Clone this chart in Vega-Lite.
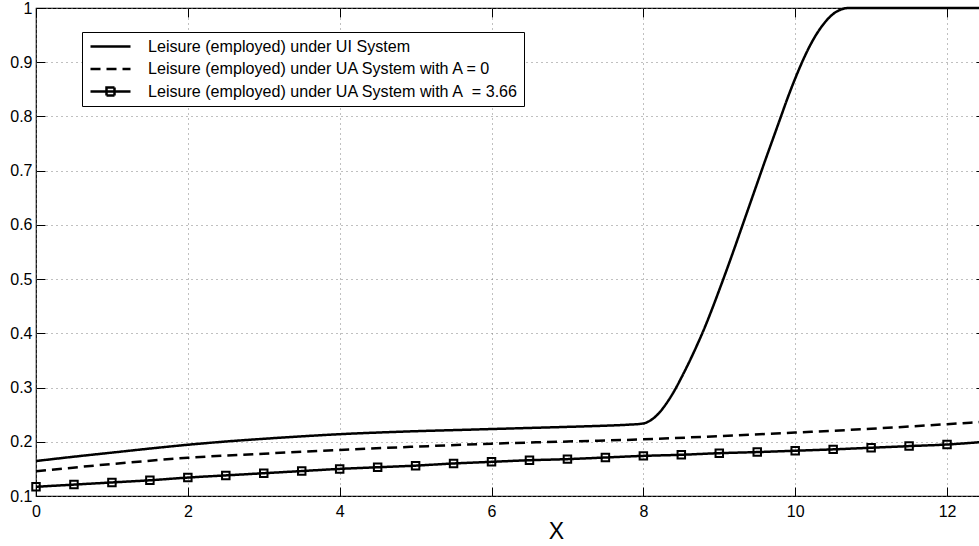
{
  "$schema": "https://vega.github.io/schema/vega-lite/v6.json",
  "autosize": "none",
  "width": 949,
  "height": 488,
  "padding": {"left": 36, "top": 8, "right": 0, "bottom": 50},
  "background": "white",
  "config": {
    "font": "Liberation Sans",
    "view": {"stroke": "black", "strokeWidth": 1.2},
    "axis": {
      "domain": false,
      "tickColor": "black",
      "tickWidth": 1,
      "tickSize": -9,
      "labelColor": "black",
      "labelFont": "Liberation Sans",
      "labelFontSize": 16,
      "labelFlush": false,
      "labelOverlap": false,
      "gridColor": "#808080",
      "gridDash": [1, 4],
      "gridWidth": 1,
      "gridOpacity": 1
    }
  },
  "datasets": {
    "curves": [
      {"series": "Leisure (employed) under UI System", "x": 0, "y": 0.1645},
      {"series": "Leisure (employed) under UI System", "x": 0.5, "y": 0.1725},
      {"series": "Leisure (employed) under UI System", "x": 1, "y": 0.18},
      {"series": "Leisure (employed) under UI System", "x": 1.5, "y": 0.1875},
      {"series": "Leisure (employed) under UI System", "x": 2, "y": 0.1945},
      {"series": "Leisure (employed) under UI System", "x": 2.5, "y": 0.2005},
      {"series": "Leisure (employed) under UI System", "x": 3, "y": 0.2055},
      {"series": "Leisure (employed) under UI System", "x": 3.5, "y": 0.21},
      {"series": "Leisure (employed) under UI System", "x": 4, "y": 0.214},
      {"series": "Leisure (employed) under UI System", "x": 4.5, "y": 0.217},
      {"series": "Leisure (employed) under UI System", "x": 5, "y": 0.2195},
      {"series": "Leisure (employed) under UI System", "x": 5.5, "y": 0.2215},
      {"series": "Leisure (employed) under UI System", "x": 6, "y": 0.2235},
      {"series": "Leisure (employed) under UI System", "x": 6.5, "y": 0.2255},
      {"series": "Leisure (employed) under UI System", "x": 7, "y": 0.2275},
      {"series": "Leisure (employed) under UI System", "x": 7.5, "y": 0.2297},
      {"series": "Leisure (employed) under UI System", "x": 7.8, "y": 0.2315},
      {"series": "Leisure (employed) under UI System", "x": 8, "y": 0.2338},
      {"series": "Leisure (employed) under UI System", "x": 8.1, "y": 0.24},
      {"series": "Leisure (employed) under UI System", "x": 8.2, "y": 0.252},
      {"series": "Leisure (employed) under UI System", "x": 8.3, "y": 0.27},
      {"series": "Leisure (employed) under UI System", "x": 8.4, "y": 0.292},
      {"series": "Leisure (employed) under UI System", "x": 8.5, "y": 0.318},
      {"series": "Leisure (employed) under UI System", "x": 8.6, "y": 0.346},
      {"series": "Leisure (employed) under UI System", "x": 8.7, "y": 0.376},
      {"series": "Leisure (employed) under UI System", "x": 8.8, "y": 0.408},
      {"series": "Leisure (employed) under UI System", "x": 8.9, "y": 0.443},
      {"series": "Leisure (employed) under UI System", "x": 9, "y": 0.48},
      {"series": "Leisure (employed) under UI System", "x": 9.1, "y": 0.518},
      {"series": "Leisure (employed) under UI System", "x": 9.2, "y": 0.557},
      {"series": "Leisure (employed) under UI System", "x": 9.3, "y": 0.597},
      {"series": "Leisure (employed) under UI System", "x": 9.4, "y": 0.637},
      {"series": "Leisure (employed) under UI System", "x": 9.5, "y": 0.677},
      {"series": "Leisure (employed) under UI System", "x": 9.6, "y": 0.717},
      {"series": "Leisure (employed) under UI System", "x": 9.7, "y": 0.756},
      {"series": "Leisure (employed) under UI System", "x": 9.8, "y": 0.795},
      {"series": "Leisure (employed) under UI System", "x": 9.9, "y": 0.834},
      {"series": "Leisure (employed) under UI System", "x": 10, "y": 0.87},
      {"series": "Leisure (employed) under UI System", "x": 10.1, "y": 0.903},
      {"series": "Leisure (employed) under UI System", "x": 10.2, "y": 0.932},
      {"series": "Leisure (employed) under UI System", "x": 10.3, "y": 0.956},
      {"series": "Leisure (employed) under UI System", "x": 10.4, "y": 0.975},
      {"series": "Leisure (employed) under UI System", "x": 10.5, "y": 0.989},
      {"series": "Leisure (employed) under UI System", "x": 10.6, "y": 0.997},
      {"series": "Leisure (employed) under UI System", "x": 10.7, "y": 1.0},
      {"series": "Leisure (employed) under UI System", "x": 12.5, "y": 1.0},
      {"series": "Leisure (employed) under UA System with A = 0", "x": 0, "y": 0.1455},
      {"series": "Leisure (employed) under UA System with A = 0", "x": 1, "y": 0.159},
      {"series": "Leisure (employed) under UA System with A = 0", "x": 2, "y": 0.1705},
      {"series": "Leisure (employed) under UA System with A = 0", "x": 3, "y": 0.178},
      {"series": "Leisure (employed) under UA System with A = 0", "x": 4, "y": 0.185},
      {"series": "Leisure (employed) under UA System with A = 0", "x": 5, "y": 0.191},
      {"series": "Leisure (employed) under UA System with A = 0", "x": 6, "y": 0.1965},
      {"series": "Leisure (employed) under UA System with A = 0", "x": 7, "y": 0.2005},
      {"series": "Leisure (employed) under UA System with A = 0", "x": 8, "y": 0.2045},
      {"series": "Leisure (employed) under UA System with A = 0", "x": 9, "y": 0.2105},
      {"series": "Leisure (employed) under UA System with A = 0", "x": 10, "y": 0.217},
      {"series": "Leisure (employed) under UA System with A = 0", "x": 11, "y": 0.224},
      {"series": "Leisure (employed) under UA System with A = 0", "x": 12, "y": 0.2325},
      {"series": "Leisure (employed) under UA System with A = 0", "x": 12.5, "y": 0.237},
      {"series": "Leisure (employed) under UA System with A\u00a0 = 3.66", "x": 0, "y": 0.117},
      {"series": "Leisure (employed) under UA System with A\u00a0 = 3.66", "x": 0.5, "y": 0.121},
      {"series": "Leisure (employed) under UA System with A\u00a0 = 3.66", "x": 1, "y": 0.125},
      {"series": "Leisure (employed) under UA System with A\u00a0 = 3.66", "x": 1.5, "y": 0.129},
      {"series": "Leisure (employed) under UA System with A\u00a0 = 3.66", "x": 2, "y": 0.134},
      {"series": "Leisure (employed) under UA System with A\u00a0 = 3.66", "x": 2.5, "y": 0.138},
      {"series": "Leisure (employed) under UA System with A\u00a0 = 3.66", "x": 3, "y": 0.142},
      {"series": "Leisure (employed) under UA System with A\u00a0 = 3.66", "x": 3.5, "y": 0.146},
      {"series": "Leisure (employed) under UA System with A\u00a0 = 3.66", "x": 4, "y": 0.15},
      {"series": "Leisure (employed) under UA System with A\u00a0 = 3.66", "x": 4.5, "y": 0.153},
      {"series": "Leisure (employed) under UA System with A\u00a0 = 3.66", "x": 5, "y": 0.156},
      {"series": "Leisure (employed) under UA System with A\u00a0 = 3.66", "x": 5.5, "y": 0.16},
      {"series": "Leisure (employed) under UA System with A\u00a0 = 3.66", "x": 6, "y": 0.163},
      {"series": "Leisure (employed) under UA System with A\u00a0 = 3.66", "x": 6.5, "y": 0.166},
      {"series": "Leisure (employed) under UA System with A\u00a0 = 3.66", "x": 7, "y": 0.168},
      {"series": "Leisure (employed) under UA System with A\u00a0 = 3.66", "x": 7.5, "y": 0.171},
      {"series": "Leisure (employed) under UA System with A\u00a0 = 3.66", "x": 8, "y": 0.174},
      {"series": "Leisure (employed) under UA System with A\u00a0 = 3.66", "x": 8.5, "y": 0.176},
      {"series": "Leisure (employed) under UA System with A\u00a0 = 3.66", "x": 9, "y": 0.179},
      {"series": "Leisure (employed) under UA System with A\u00a0 = 3.66", "x": 9.5, "y": 0.181},
      {"series": "Leisure (employed) under UA System with A\u00a0 = 3.66", "x": 10, "y": 0.1835},
      {"series": "Leisure (employed) under UA System with A\u00a0 = 3.66", "x": 10.5, "y": 0.186},
      {"series": "Leisure (employed) under UA System with A\u00a0 = 3.66", "x": 11, "y": 0.189},
      {"series": "Leisure (employed) under UA System with A\u00a0 = 3.66", "x": 11.5, "y": 0.192},
      {"series": "Leisure (employed) under UA System with A\u00a0 = 3.66", "x": 12, "y": 0.195},
      {"series": "Leisure (employed) under UA System with A\u00a0 = 3.66", "x": 12.5, "y": 0.2}
    ]
  },
  "data": {"name": "curves"},
  "resolve": {"axis": {"x": "independent", "y": "independent"}},
  "layer": [
    {
      "mark": {"type": "line", "color": "black", "strokeWidth": 2.5, "interpolate": "monotone", "clip": false},
      "encoding": {
        "x": {
          "field": "x",
          "type": "quantitative",
          "scale": {"domain": [0, 12.5], "nice": false, "zero": false},
          "axis": {
            "orient": "bottom",
            "values": [0, 2, 4, 6, 8, 10, 12],
            "grid": true,
            "labelPadding": 16,
            "title": "X",
            "titleFont": "Liberation Sans",
            "titleFontSize": 23,
            "titleFontWeight": "normal",
            "titleColor": "black",
            "titleX": 520,
            "titleY": 42,
            "titleBaseline": "alphabetic",
            "titleAlign": "center"
          }
        },
        "y": {
          "field": "y",
          "type": "quantitative",
          "scale": {"domain": [0.1, 1], "nice": false, "zero": false},
          "axis": {
            "orient": "left",
            "values": [0.1, 0.2, 0.3, 0.4, 0.5, 0.6, 0.7, 0.8, 0.9, 1],
            "format": ".1~f",
            "grid": true,
            "labelPadding": 13,
            "title": null
          }
        },
        "strokeDash": {
          "field": "series",
          "type": "nominal",
          "scale": {
            "domain": [
              "Leisure (employed) under UI System",
              "Leisure (employed) under UA System with A = 0",
              "Leisure (employed) under UA System with A\u00a0 = 3.66"
            ],
            "range": [[1, 0], [10, 6], [1, 0]]
          },
          "legend": {
            "title": null,
            "orient": "none",
            "legendX": 46,
            "legendY": 24,
            "direction": "vertical",
            "fillColor": "white",
            "strokeColor": "black",
            "padding": 5,
            "rowPadding": 4.5,
            "symbolSize": 256,
            "symbolStrokeWidth": 2.5,
            "symbolStrokeColor": "black",
            "symbolOffset": 2,
            "labelOffset": 40,
            "labelFont": "Liberation Sans",
            "labelFontSize": 16.1,
            "labelColor": "black",
            "labelLimit": 600,
            "encode": {
              "symbols": {
                "update": {
                  "shape": {"signal": "indexof(datum.value, '3.66') >= 0 ? 'M-1,0H4M1,-0.5H2V0.5H1Z' : 'M-1,0H4'"}
                }
              }
            }
          }
        }
      }
    },
    {
      "transform": [{"filter": "indexof(datum.series, '3.66') >= 0"}],
      "mark": {"type": "point", "shape": "square", "size": 56, "filled": false, "color": "black", "strokeWidth": 2, "opacity": 1},
      "encoding": {
        "x": {
          "field": "x",
          "type": "quantitative",
          "axis": {"orient": "top", "values": [0, 2, 4, 6, 8, 10, 12], "labels": false, "grid": false, "title": null}
        },
        "y": {
          "field": "y",
          "type": "quantitative",
          "axis": {"orient": "right", "values": [0.1, 0.2, 0.3, 0.4, 0.5, 0.6, 0.7, 0.8, 0.9, 1], "labels": false, "grid": false, "title": null}
        }
      }
    }
  ]
}
